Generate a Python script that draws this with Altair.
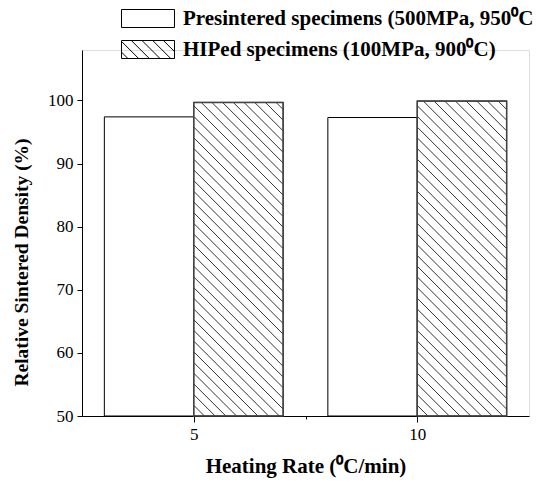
import altair as alt
import pandas as pd

# ---- data ----
rates = [5, 10]
series = ["Presintered specimens (500MPa, 950\u2070C", "HIPed specimens (100MPa, 900\u2070C)"]
presintered = [97.4, 97.3]
hiped = [99.7, 99.9]
x_ticks = [5, 7.5, 10]
y_ticks = [50, 60, 70, 80, 90, 100]

# ---- layout / style ----
W, H = 447, 366
XDOM = [2.5, 12.5]
YDOM = [50, 108]
BAR_W = 2.0
FONT = "Liberation Serif"
HATCH_STEP = 10.7  # px, horizontal spacing of hatch lines
SYM_W, SYM_H = 53.0, 18.0

rows = []
for r, p, h in zip(rates, presintered, hiped):
    rows.append({"rate": r, "series": series[0], "value": p, "x0": r - BAR_W, "x1": r})
    rows.append({"rate": r, "series": series[1], "value": h, "x0": r, "x1": r + BAR_W})
bars = pd.DataFrame(rows)

# hatch segments for HIPed bars (derived from the bar values)
sx = W / (XDOM[1] - XDOM[0])
sy = H / (YDOM[1] - YDOM[0])
hrows = []
for _, b in bars[bars["series"] == series[1]].iterrows():
    bw = (b["x1"] - b["x0"]) * sx
    bh = (b["value"] - YDOM[0]) * sy
    k = HATCH_STEP
    while k < bw + bh:
        ua = max(0.0, k - bh)
        ub = min(bw, k)
        hrows.append({
            "xa": b["x0"] + ua / sx, "ya": YDOM[0] + (k - ua) / sy,
            "xb": b["x0"] + ub / sx, "yb": YDOM[0] + (k - ub) / sy,
        })
        k += HATCH_STEP
hatch = pd.DataFrame(hrows)

# legend symbol paths: unit = SYM_H/2 px, box is SYM_W x SYM_H
u = SYM_H / 2
hw = SYM_W / 2 / u
rect_path = f"M{-hw:.3f},-1H{hw:.3f}V1H{-hw:.3f}Z"
hatch_path = rect_path
step = HATCH_STEP / u
c = -hw - 1 + step * 0.6
while c < hw + 1:
    xa = max(-hw, c - 1)
    xb = min(hw, c + 1)
    if xb > xa:
        hatch_path += f"M{xa:.3f},{xa - c:.3f}L{xb:.3f},{xb - c:.3f}"
    c += step

xscale = alt.Scale(domain=XDOM, nice=False, zero=False)
yscale = alt.Scale(domain=YDOM, nice=False, zero=False)

xaxis = alt.Axis(
    values=x_ticks, title="Heating Rate (\u2070C/min)",
    labelExpr="datum.value == 7.5 ? '' : datum.label",
    tickSize={"condition": {"test": "datum.value == 7.5", "value": 3}, "value": 6},
    grid=False, domainColor="black", tickColor="black", labelColor="black",
    labelFont=FONT, labelFontSize=17, labelPadding=4,
    titleFont=FONT, titleFontSize=21, titleFontWeight="bold", titleColor="black", titlePadding=13,
)
yaxis = alt.Axis(
    values=y_ticks, title="Relative Sintered Density (%)", tickSize=5,
    grid=False, domainColor="black", tickColor="black", labelColor="black",
    labelFont=FONT, labelFontSize=17, labelPadding=4,
    titleFont=FONT, titleFontSize=19.5, titleFontWeight="bold", titleColor="black", titlePadding=16,
    titleY=212,
)

base = alt.Chart(bars)

rects = base.mark_rect(fill="white", stroke="black", strokeWidth=1).encode(
    x=alt.X("x0:Q", scale=xscale, axis=xaxis),
    x2="x1:Q",
    y=alt.Y("value:Q", scale=yscale, axis=yaxis),
    y2=alt.datum(YDOM[0]),
)

hatch_layer = alt.Chart(hatch).mark_rule(color="#333333", strokeWidth=1).encode(
    x=alt.X("xa:Q", scale=xscale),
    y=alt.Y("ya:Q", scale=yscale),
    x2="xb:Q",
    y2="yb:Q",
)

outline = base.transform_filter(alt.datum.series == series[1]).mark_rect(
    fill=None, fillOpacity=0, stroke="#444444", strokeWidth=1.5
).encode(
    x=alt.X("x0:Q", scale=xscale),
    x2="x1:Q",
    y=alt.Y("value:Q", scale=yscale),
    y2=alt.datum(YDOM[0]),
)

legend_pts = base.mark_point(opacity=0, filled=False, color="black").encode(
    x=alt.X("rate:Q", scale=xscale),
    y=alt.Y("value:Q", scale=yscale),
    shape=alt.Shape(
        "series:N",
        scale=alt.Scale(domain=series, range=[rect_path, hatch_path]),
        legend=alt.Legend(
            title=None, orient="none", legendX=55.5, legendY=-42,
            symbolSize=SYM_H * SYM_H, symbolStrokeColor="black", symbolFillColor="white",
            symbolStrokeWidth=1, symbolOpacity=1,
            labelFont=FONT, labelFontSize=21, labelFontWeight="bold", labelColor="black",
            labelLimit=0, labelOffset=24.5, rowPadding=8,
        ),
    ),
)

chart = alt.layer(rects, hatch_layer, outline, legend_pts).properties(
    width=W, height=H,
    autosize=alt.AutoSizeParams(type="none"),
    padding={"left": 82, "top": 50, "right": 13, "bottom": 66},
).configure_view(stroke=None).configure(background="white")

chart.save("out.html", embed_options={"renderer": "svg", "actions": False})
